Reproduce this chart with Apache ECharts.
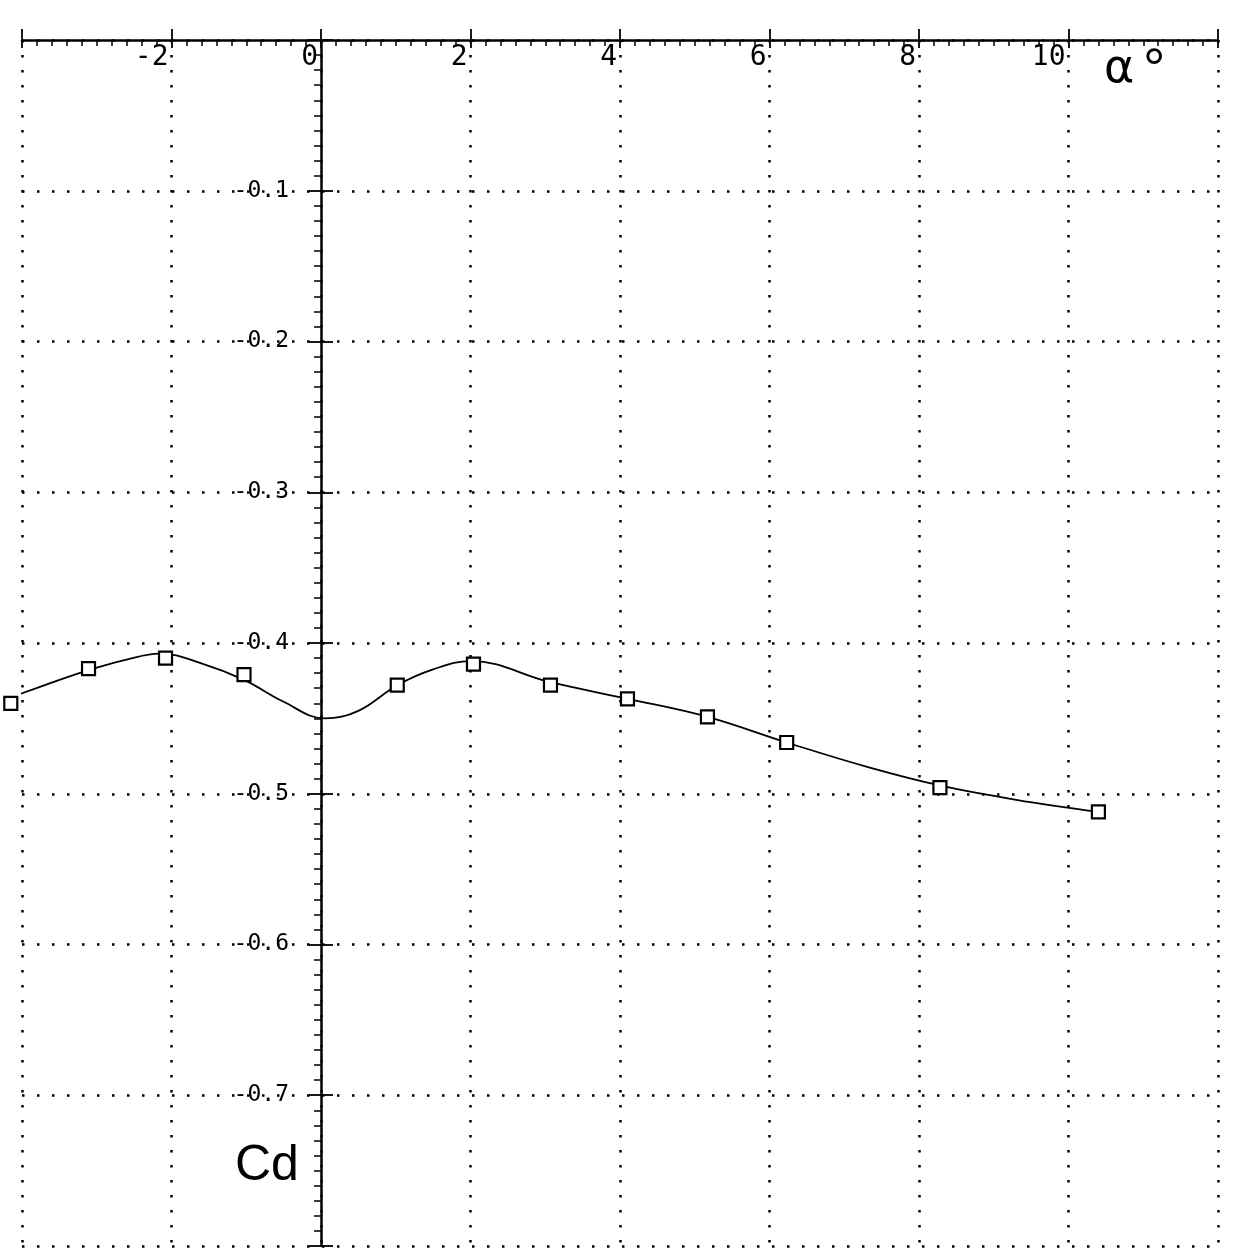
<!DOCTYPE html>
<html><head><meta charset="utf-8">
<script src="https://cdn.jsdelivr.net/npm/echarts@6/dist/echarts.min.js"></script>
<style>html,body{margin:0;padding:0;background:#fff}#c{width:1233px;height:1258px}</style>
</head><body><div id="c"></div>
<script>
// Tick labels
const alphaTickLabels = [-2, 0, 2, 4, 6, 8, 10];
const cdTickLabels = [-0.1, -0.2, -0.3, -0.4, -0.5, -0.6, -0.7];
// Measured points (open squares)
const markerAlpha = [-4.15, -3.11, -2.08, -1.03, 1.02, 2.04, 3.07, 4.10, 5.17, 6.23, 8.28, 10.40];
const markerCd    = [-0.440, -0.417, -0.410, -0.421, -0.428, -0.414, -0.428, -0.437, -0.449, -0.466, -0.496, -0.512];
// Faired curve
const curveAlpha = [-4.15, -3.64, -3.11, -2.60, -2.16, -1.60, -1.03, -0.50, 0.05, 0.50, 1.02, 1.50, 2.00, 3.07, 4.10, 5.17, 6.23, 7.33, 8.28, 9.30, 10.40];
const curveCd    = [-0.436, -0.427, -0.418, -0.411, -0.407, -0.4135, -0.4245, -0.439, -0.450, -0.445, -0.428, -0.4175, -0.412, -0.426, -0.437, -0.449, -0.466, -0.4825, -0.4945, -0.504, -0.512];

const markerData = markerAlpha.map((a, i) => [a, markerCd[i]]);
const curveData = curveAlpha.map((a, i) => [a, curveCd[i]]);

const ink = '#000';
const dotted = { color: ink, width: 2.5, type: [2.5, 12.5] };
const monoFont = '"DejaVu Sans Mono", "Liberation Mono", monospace';

const gridL = 22, gridR = 15, W = 1233;
const xMin = -4, xMax = 12;
// place the Cd axis on alpha = 0 (shift from the grid's left edge)
const yAxisShift = -((0 - xMin) / (xMax - xMin)) * (W - gridL - gridR);

const xBase = { type: 'value', min: xMin, max: xMax, interval: 2, position: 'top' };
const yBase = { type: 'value', min: -0.8, max: 0, interval: 0.1, position: 'left', offset: yAxisShift };

const chart = echarts.init(document.getElementById('c'), null, { renderer: 'canvas' });
chart.setOption({
  animation: false,
  backgroundColor: '#fff',
  grid: { left: gridL, right: gridR, top: 40, bottom: 12, containLabel: false, outerBoundsMode: 'none' },
  xAxis: [
    Object.assign({}, xBase, {
      axisLine: { show: true, onZero: false, lineStyle: { color: ink, width: 2.5 } },
      axisTick: { show: true, inside: true, length: 8, lineStyle: { color: ink, width: 1.8 } },
      minorTick: { show: true, splitNumber: 10, length: 6, lineStyle: { color: ink, width: 1.5 } },
      axisLabel: {
        show: true, inside: true, margin: 4, color: ink, fontFamily: monoFont, fontSize: 28,
        align: 'right', verticalAlign: 'top', padding: [0, 3, 0, 0],
        formatter: v => alphaTickLabels.indexOf(Math.round(v)) >= 0 && Math.abs(v - Math.round(v)) < 1e-9 ? String(Math.round(v)) : ''
      },
      splitLine: { show: true, lineStyle: dotted },
      minorSplitLine: { show: false }
    }),
    Object.assign({}, xBase, {
      axisLine: { show: false, onZero: false },
      axisTick: { show: true, inside: false, length: 11, lineStyle: { color: ink, width: 1.8 } },
      axisLabel: { show: false },
      splitLine: { show: false }
    })
  ],
  yAxis: [
    Object.assign({}, yBase, {
      axisLine: { show: true, onZero: false, lineStyle: { color: ink, width: 2.5 } },
      axisTick: { show: true, inside: false, length: 12, lineStyle: { color: ink, width: 1.8 } },
      minorTick: { show: true, splitNumber: 10, length: 7, lineStyle: { color: ink, width: 1.5 } },
      axisLabel: {
        show: true, margin: 32, color: ink, fontFamily: monoFont, fontSize: 23,
        verticalAlign: 'middle', padding: [0, 0, 6, 0],
        formatter: function (v) {
          const r = Math.round(Number(v) * 10) / 10;
          return cdTickLabels.some(t => Math.abs(t - r) < 1e-9) ? r.toFixed(1) : '';
        }
      },
      splitLine: { show: true, lineStyle: dotted },
      minorSplitLine: { show: false }
    }),
    Object.assign({}, yBase, {
      axisLine: { show: false, onZero: false },
      axisTick: { show: true, inside: true, length: 12, lineStyle: { color: ink, width: 1.8 } },
      axisLabel: { show: false },
      splitLine: { show: false }
    })
  ],
  graphic: [
    { type: 'text', left: 1104, top: 47, style: { text: 'α', font: '46px "DejaVu Sans", sans-serif', fill: ink } },
    { type: 'text', left: 1143, top: 44, style: { text: '°', font: '56px "Liberation Sans", sans-serif', fill: ink } },
    { type: 'text', left: 235, top: 1141, style: { text: 'Cd', font: '50px "Liberation Sans", sans-serif', fill: ink } }
  ],
  series: [
    {
      type: 'line', xAxisIndex: 0, yAxisIndex: 0, data: curveData,
      smooth: 0.4, showSymbol: false, symbol: 'none', clip: false,
      lineStyle: { color: ink, width: 1.8 }, z: 3
    },
    {
      type: 'scatter', xAxisIndex: 0, yAxisIndex: 0, data: markerData,
      symbol: 'rect', symbolSize: 13, clip: false,
      itemStyle: { color: '#fff', borderColor: ink, borderWidth: 2.2, opacity: 1 }, z: 4
    }
  ]
});
</script>
</body></html>
